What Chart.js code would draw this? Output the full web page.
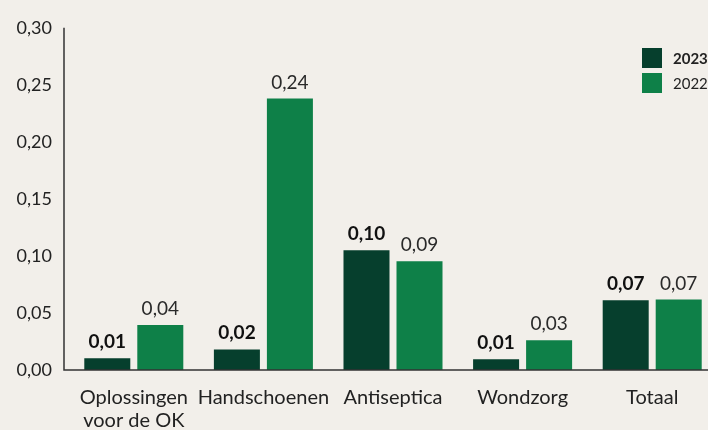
<!DOCTYPE html>
<html>
<head>
<meta charset="utf-8">
<script src="https://cdn.jsdelivr.net/npm/chart.js@4"></script>
<style>
  html, body { margin: 0; padding: 0; background: #f2efea; overflow: hidden; }
  #wrap { width: 720px; height: 430px; position: relative; }
</style>
</head>
<body>
<div id="wrap"><canvas id="chart"></canvas></div>
<script>
// categories and values
const categories = [["Oplossingen", "voor de OK"], "Handschoenen", "Antiseptica", "Wondzorg", "Totaal"];
const values2023 = [0.0103, 0.018, 0.105, 0.0095, 0.0612];
const values2022 = [0.0394, 0.238, 0.0954, 0.026, 0.0618];
// printed labels (rounded in the source, so kept separately)
const labels2023 = ["0,01", "0,02", "0,10", "0,01", "0,07"];
const labels2022 = ["0,04", "0,24", "0,09", "0,03", "0,07"];
const yTicks = [0, 0.05, 0.1, 0.15, 0.2, 0.25, 0.3];

const DARK = "#063f2d";
const LIGHT = "#0e8048";
const FONT = "Lato, 'Liberation Sans', sans-serif";

// value labels above bars, axis lines and legend
const decor = {
  id: "decor",
  afterDatasetsDraw(chart) {
    const ctx = chart.ctx;
    const area = chart.chartArea;
    ctx.save();
    ctx.textAlign = "center";
    ctx.textBaseline = "alphabetic";
    chart.data.datasets.forEach((ds, di) => {
      chart.getDatasetMeta(di).data.forEach((bar, i) => {
        ctx.font = (di === 0 ? "bold " : "") + "19px " + FONT;
        ctx.fillStyle = di === 0 ? "#111" : "#2a2a2a";
        ctx.fillText(ds.valueLabels[i], bar.x, bar.y - 10);
      });
    });

    // axes
    ctx.strokeStyle = "#333";
    ctx.lineWidth = 1.5;
    ctx.beginPath();
    ctx.moveTo(64, area.top);
    ctx.lineTo(64, area.bottom);
    ctx.lineTo(chart.width, area.bottom);
    ctx.stroke();

    // legend
    ctx.textAlign = "left";
    ctx.textBaseline = "middle";
    chart.data.datasets.forEach((ds, di) => {
      const y = 48 + di * 25;
      ctx.fillStyle = ds.backgroundColor;
      ctx.fillRect(642, y, 20, 20);
      ctx.font = (di === 0 ? "bold " : "") + "15px " + FONT;
      ctx.fillStyle = "#222";
      ctx.fillText(ds.label, 673, y + 11);
    });
    ctx.restore();
  },
};

new Chart(document.getElementById("chart"), {
  type: "bar",
  data: {
    labels: categories,
    datasets: [
      { label: "2023", data: values2023, valueLabels: labels2023, backgroundColor: DARK,
        categoryPercentage: 0.818, barPercentage: 0.868 },
      { label: "2022", data: values2022, valueLabels: labels2022, backgroundColor: LIGHT,
        categoryPercentage: 0.818, barPercentage: 0.868 },
    ],
  },
  options: {
    responsive: true,
    maintainAspectRatio: false,
    animation: false,
    layout: { padding: { top: 22, right: 3, left: 0, bottom: 0 } },
    plugins: { legend: { display: false }, tooltip: { enabled: false } },
    scales: {
      x: {
        grid: { display: false },
        border: { display: false },
        ticks: { color: "#222", font: { family: FONT, size: 20, lineHeight: 1.15 }, padding: 8, maxRotation: 0, autoSkip: false },
        afterFit: (s) => { s.height = 60; },
      },
      y: {
        min: 0,
        max: 0.3,
        grid: { display: false, drawTicks: false },
        border: { display: false },
        afterBuildTicks: (s) => { s.ticks = yTicks.map((v) => ({ value: v })); },
        ticks: {
          color: "#222",
          padding: 17,
          font: { family: FONT, size: 18 },
          callback: (v) => v.toFixed(2).replace(".", ","),
        },
        afterFit: (s) => { s.width = 69; },
      },
    },
  },
  plugins: [decor],
});
</script>
</body>
</html>
